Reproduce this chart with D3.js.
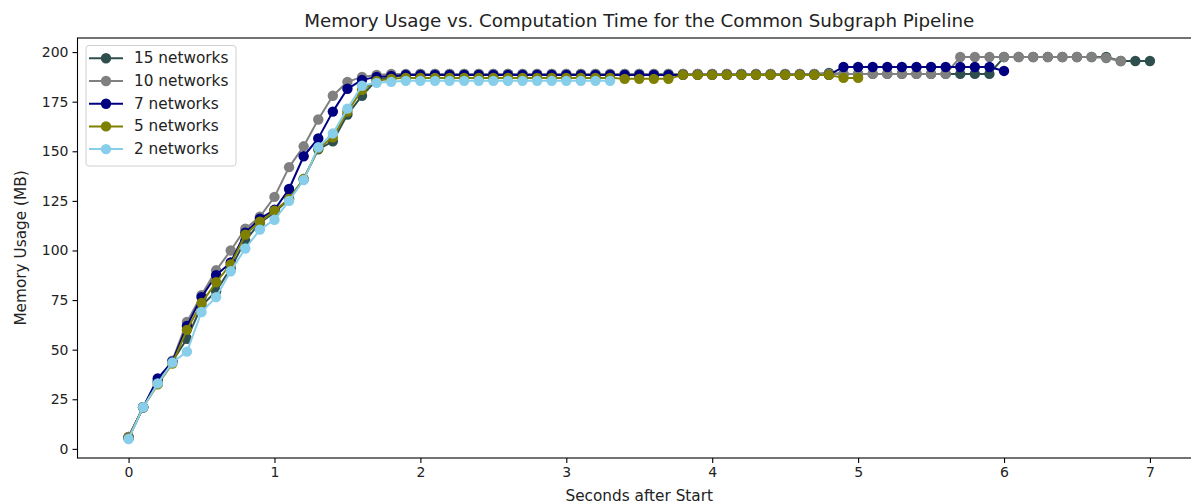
<!DOCTYPE html>
<html>
<head>
<meta charset="utf-8">
<script src="https://cdn.jsdelivr.net/npm/d3@7"></script>
<style>
  html, body { margin: 0; padding: 0; background: #ffffff; }
  svg { display: block; font-family: "DejaVu Sans", sans-serif; }
</style>
</head>
<body>
<div id="chart"></div>
<script>
// Seconds after start, sampled every 0.1 s
const seconds = [
  0.0, 0.1, 0.2, 0.3, 0.4, 0.5, 0.6, 0.7, 0.8, 0.9,
  1.0, 1.1, 1.2, 1.3, 1.4, 1.5, 1.6, 1.7, 1.8, 1.9,
  2.0, 2.1, 2.2, 2.3, 2.4, 2.5, 2.6, 2.7, 2.8, 2.9,
  3.0, 3.1, 3.2, 3.3, 3.4, 3.5, 3.6, 3.7, 3.8, 3.9,
  4.0, 4.1, 4.2, 4.3, 4.4, 4.5, 4.6, 4.7, 4.8, 4.9,
  5.0, 5.1, 5.2, 5.3, 5.4, 5.5, 5.6, 5.7, 5.8, 5.9,
  6.0, 6.1, 6.2, 6.3, 6.4, 6.5, 6.6, 6.7, 6.8, 6.9,
  7.0
];

// Memory usage (MB) per run
const mem_15 = [
  6, 21, 34, 44, 55.5, 72, 79.5, 91, 105, 114,
  119, 126, 136, 151, 155, 168.5, 178, 186, 187.5, 188.5,
  189, 189, 189, 189, 189, 189, 189, 189, 189, 189,
  189, 189, 189, 189, 189, 189, 189, 189, 189, 189,
  189, 189, 189, 189, 189, 189, 189, 189, 189.5, 189,
  189, 189, 189, 189, 189, 189, 189, 189, 189, 189,
  197.5, 197.5, 197.5, 197.5, 197.5, 197.5, 197.5, 197.5, 195.5, 195.5,
  195.5
];
const mem_10 = [
  6, 21, 34, 44.5, 64, 77.5, 90, 100, 111, 117,
  127, 142, 152.5, 166, 178, 185, 187.5, 188.5, 189, 189,
  189, 189, 189, 189, 189, 189, 189, 189, 189, 189,
  189, 189, 189, 189, 189, 189, 189, 189, 189, 189,
  189, 189, 189, 189, 189, 189, 189, 189, 189, 189,
  189, 189, 189, 189, 189, 189, 189, 197.5, 197.5, 197.5,
  197.5, 197.5, 197.5, 197.5, 197.5, 197.5, 197.5, 197, 195.5
];
const mem_7 = [
  5.5, 21, 35.5, 44, 62, 76.5, 87.5, 94, 109, 116,
  120.5, 131, 147.5, 156.5, 170, 181.5, 186, 187.5, 188, 188.5,
  188.5, 188.5, 188.5, 188.5, 188.5, 188.5, 188.5, 188.5, 188.5, 188.5,
  188.5, 188.5, 188.5, 188.5, 188.5, 188.5, 188.5, 188.5, 188.5, 188.5,
  188.5, 188.5, 188.5, 188.5, 188.5, 188.5, 188.5, 188.5, 188.5, 192.5,
  192.5, 192.5, 192.5, 192.5, 192.5, 192.5, 192.5, 192.5, 192.5, 192.5,
  190.5
];
const mem_5 = [
  5.5, 21, 32.5, 43, 60, 73.5, 84, 93, 108, 114.5,
  120, 126, 136, 151.5, 157, 170, 181, 185.5, 186.5, 187,
  187, 187, 187, 187, 187, 187, 187, 187, 187, 187,
  187, 187, 187, 187, 186.5, 186.5, 186.5, 186.5, 188.5, 188.5,
  188.5, 188.5, 188.5, 188.5, 188.5, 188.5, 188.5, 188.5, 188.5, 187,
  187
];
const mem_2 = [
  5, 21, 33, 43.5, 49, 69, 76.5, 89.5, 101, 110.5,
  115.5, 125, 135.5, 152, 159, 171.5, 183, 184.5, 185, 185.5,
  185.5, 185.5, 185.5, 185.5, 185.5, 185.5, 185.5, 185.5, 185.5, 185.5,
  185.5, 185.5, 185.5, 185.5
];

const series_labels = ['15 networks', '10 networks', '7 networks', '5 networks', '2 networks'];
const series_values = [mem_15, mem_10, mem_7, mem_5, mem_2];
const series_colours = ['#2f4f4f', '#808080', '#000080', '#808000', '#87ceeb'];
const x_ticks = [0, 1, 2, 3, 4, 5, 6, 7];
const y_ticks = [0, 25, 50, 75, 100, 125, 150, 175, 200];

function MemoryPlotter() {
  this._width = 1191;
  this._height = 504;
  this._left = 77.5;
  this._right = 1201;
  this._top = 38;
  this._bottom = 458;
  this._tick_font_size = 14;
  this._label_font_size = 15.3;
  this._legend_font_size = 15.3;
  this._title_font_size = 18.3;
  this._tick_size = 5;
  this._marker_radius = 5.2;
  this._line_width = 2;
  this._legend_row = 22.7;
}

MemoryPlotter.prototype._plot_axes = function(svg, x, y) {
  let ax_x = svg.append('svg:g')
    .attr('class', 'x_axis')
    .attr('transform', 'translate(0,' + this._bottom + ')')
    .call(d3.axisBottom(x).tickValues(x_ticks).tickSize(this._tick_size).tickPadding(4).tickFormat(d3.format('d')));
  let ax_y = svg.append('svg:g')
    .attr('class', 'y_axis')
    .attr('transform', 'translate(' + this._left + ',0)')
    .call(d3.axisLeft(y).tickValues(y_ticks).tickSize(this._tick_size).tickPadding(4).tickFormat(d3.format('d')));

  for(let ax of [ax_x, ax_y]) {
    ax.select('.domain').remove();
    ax.selectAll('line').attr('stroke', '#000').attr('stroke-width', 1.1);
    ax.selectAll('text')
      .attr('font-family', '"DejaVu Sans", sans-serif')
      .attr('font-size', this._tick_font_size)
      .attr('fill', '#222');
  }

  // spines
  svg.append('svg:rect')
    .attr('x', this._left)
    .attr('y', this._top)
    .attr('width', this._right - this._left)
    .attr('height', this._bottom - this._top)
    .attr('fill', 'none')
    .attr('stroke', '#000')
    .attr('stroke-width', 1.1);

  svg.append('svg:text')
    .attr('x', 0.5*(this._left + this._right))
    .attr('y', 27)
    .attr('text-anchor', 'middle')
    .attr('font-size', this._title_font_size)
    .attr('fill', '#222')
    .text('Memory Usage vs. Computation Time for the Common Subgraph Pipeline');

  svg.append('svg:text')
    .attr('x', 0.5*(this._left + this._right))
    .attr('y', 501)
    .attr('text-anchor', 'middle')
    .attr('font-size', this._label_font_size)
    .attr('fill', '#222')
    .text('Seconds after Start');

  svg.append('svg:text')
    .attr('transform', 'translate(25.5,' + (0.5*(this._top + this._bottom)) + ') rotate(-90)')
    .attr('text-anchor', 'middle')
    .attr('font-size', this._label_font_size)
    .attr('fill', '#222')
    .text('Memory Usage (MB)');
}

MemoryPlotter.prototype._plot_series = function(svg, x, y) {
  let self = this;
  let line = d3.line()
    .x((d, i) => x(seconds[i]))
    .y(d => y(d));

  let groups = svg.append('svg:g')
    .attr('class', 'series')
    .selectAll('g.run')
    .data(series_values)
    .join('svg:g')
    .attr('class', 'run');

  groups.append('svg:path')
    .attr('d', d => line(d))
    .attr('fill', 'none')
    .attr('stroke', (d, i) => series_colours[i])
    .attr('stroke-width', this._line_width)
    .attr('stroke-linejoin', 'round');

  groups.each(function(vals, k) {
    d3.select(this).selectAll('circle')
      .data(vals)
      .join('svg:circle')
      .attr('cx', (d, i) => x(seconds[i]))
      .attr('cy', d => y(d))
      .attr('r', self._marker_radius)
      .attr('fill', series_colours[k]);
  });
}

MemoryPlotter.prototype._add_legend = function(svg) {
  let self = this;
  let box_x = 86;
  let box_y = 45.5;
  let box_w = 150;
  let box_h = 120.5;

  svg.append('svg:rect')
    .attr('x', box_x)
    .attr('y', box_y)
    .attr('width', box_w)
    .attr('height', box_h)
    .attr('rx', 3)
    .attr('fill', '#ffffff')
    .attr('fill-opacity', 0.8)
    .attr('stroke', '#d0d0d0')
    .attr('stroke-width', 1);

  let rows = svg.append('svg:g')
    .attr('class', 'legend')
    .attr('transform', 'translate(' + box_x + ',' + (box_y + 12.8) + ')')
    .selectAll('g.label')
    .data(series_labels)
    .join('svg:g')
    .attr('class', 'label')
    .attr('transform', (d, i) => 'translate(0,' + i*self._legend_row + ')');

  rows.append('svg:line')
    .attr('x1', 3)
    .attr('x2', 37)
    .attr('y1', 0)
    .attr('y2', 0)
    .attr('stroke', (d, i) => series_colours[i])
    .attr('stroke-width', this._line_width);
  rows.append('svg:circle')
    .attr('cx', 20)
    .attr('cy', 0)
    .attr('r', this._marker_radius)
    .attr('fill', (d, i) => series_colours[i]);
  rows.append('svg:text')
    .attr('x', 48)
    .attr('y', 0)
    .attr('dominant-baseline', 'central')
    .attr('font-size', this._legend_font_size)
    .attr('fill', '#222')
    .text(d => d);
}

MemoryPlotter.prototype.plot = function(container) {
  let svg = d3.select(container).append('svg:svg')
    .attr('width', this._width)
    .attr('height', this._height);

  svg.append('svg:rect')
    .attr('width', this._width)
    .attr('height', this._height)
    .attr('fill', '#ffffff');

  let x = d3.scaleLinear()
    .domain([-0.35, 7.35])
    .range([this._left, this._right]);
  let y = d3.scaleLinear()
    .domain([-4.6, 207.1])
    .range([this._bottom, this._top]);

  this._plot_series(svg, x, y);
  this._plot_axes(svg, x, y);
  this._add_legend(svg);
}

new MemoryPlotter().plot('#chart');
</script>
</body>
</html>
